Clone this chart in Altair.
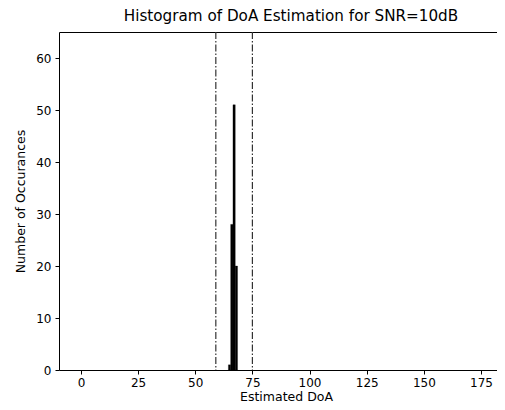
import altair as alt
import pandas as pd

# Histogram bins (degrees) and counts
bin_start = [64.5, 65.5, 66.5, 67.5]
bin_end = [65.5, 66.5, 67.5, 68.5]
counts = [1, 28, 51, 20]

# Vertical reference lines (dash-dot)
ref_lines = [59, 75]

x_ticks = [0, 25, 50, 75, 100, 125, 150, 175]
y_ticks = [0, 10, 20, 30, 40, 50, 60]

bars_df = pd.DataFrame({"start": bin_start, "end": bin_end, "count": counts})
lines_df = pd.DataFrame({"x": ref_lines})

xscale = alt.Scale(domain=[-9.6, 182.0], nice=False, zero=False)
yscale = alt.Scale(domain=[0, 65], nice=False)

font = "DejaVu Sans"

bars = alt.Chart(bars_df).mark_bar(color="black", stroke="black", strokeWidth=0.3).encode(
    x=alt.X("start:Q", scale=xscale,
            axis=alt.Axis(values=x_ticks, title="Estimated DoA", grid=False,
                          tickColor="black", domainColor="black", tickSize=4,
                          labelFontSize=12, titleFontSize=12.5, labelFont=font,
                          titleFont=font, labelColor="black", titleColor="black",
                          titleFontWeight="normal", labelPadding=3, titlePadding=2,
                          titleX=227)),
    x2="end:Q",
    y=alt.Y("count:Q", scale=yscale,
            axis=alt.Axis(values=y_ticks, title="Number of Occurances", grid=False,
                          tickColor="black", domainColor="black", tickSize=4,
                          labelFontSize=12, titleFontSize=12.5, labelFont=font,
                          titleFont=font, labelColor="black", titleColor="black",
                          titleFontWeight="normal", labelPadding=4, titlePadding=8)),
    y2=alt.datum(0),
)

rules = alt.Chart(lines_df).mark_rule(color="#333333", strokeWidth=1.2,
                                       strokeDash=[7, 2, 1.5, 2]).encode(
    x=alt.X("x:Q", scale=xscale,
            axis=alt.Axis(orient="top", labels=False, ticks=False, title=None,
                          grid=False, domainColor="black")),
)

chart = alt.layer(rules, bars).resolve_axis(x="independent").properties(
    width=438,
    height=338,
    title=alt.TitleParams("Histogram of DoA Estimation for SNR=10dB", fontSize=15.2,
                          font=font, fontWeight="normal", color="black",
                          anchor="middle", offset=7, dx=13),
    autosize=alt.AutoSizeParams(type="none"),
    padding={"left": 51, "top": 24, "right": 0, "bottom": 32},
).configure_view(strokeWidth=0)

chart.save("out.html", embed_options={"renderer": "svg", "actions": False})
